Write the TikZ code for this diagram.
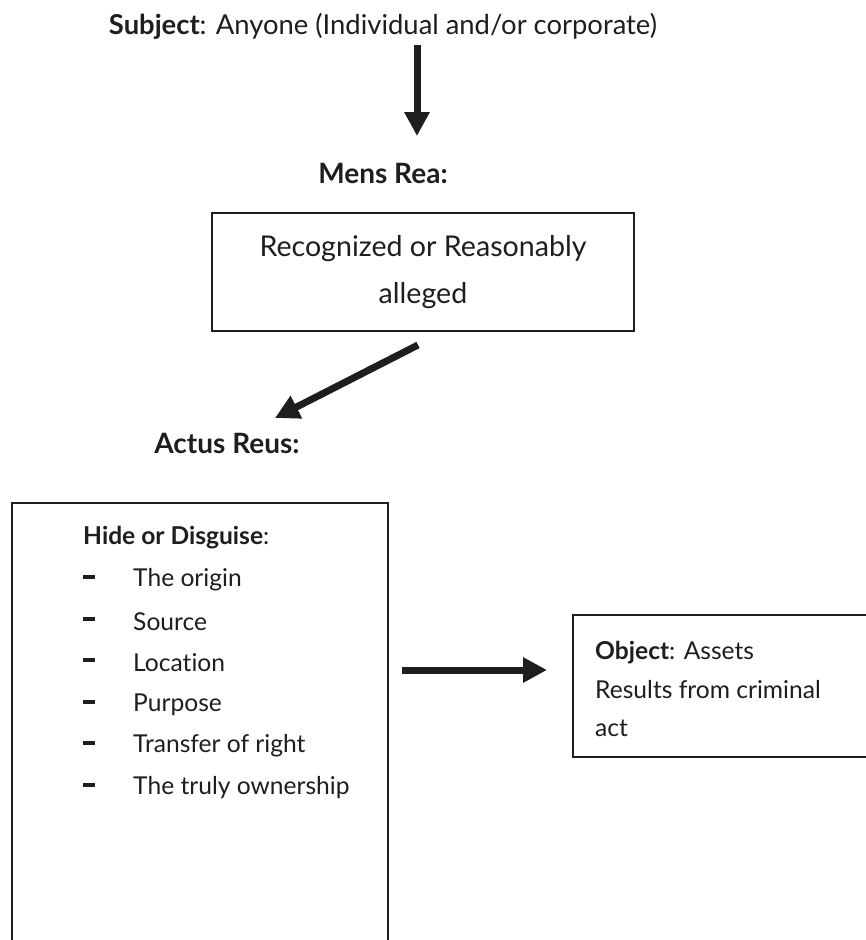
\documentclass[tikz,border=0pt]{standalone}
\usepackage{fontspec}
\setmainfont{Lato}[Ligatures={NoCommon,NoDiscretionary}]
\usetikzlibrary{arrows.meta}
\definecolor{ink}{HTML}{1E1E1E}
\tikzset{
  bigarrow/.style={draw=ink, line width=7pt, -{Triangle[length=24pt,width=24pt]}},
  frame/.style={draw=ink, line width=1.8pt},
  label/.style={inner sep=0pt, text=ink, font=\bfseries\fontsize{28}{32}\selectfont},
  body/.style={inner sep=0pt, text=ink, font=\fontsize{24.6}{28}\selectfont, anchor=west},
}
\begin{document}
\begin{tikzpicture}[x=1pt, y=-1pt]
  \useasboundingbox (0,0) rectangle (866,940);
  \clip (0,0) rectangle (866,940);
  \fill[white] (0,0) rectangle (866,940);

  % top line: the subject
  \node[label, font=\fontsize{27.4}{32}\selectfont] (subj) at (383,26)
    {\textbf{Subject}: Anyone (Individual and/or corporate)};

  % mental element
  \node[label] (mens) at (383,173) {Mens Rea:};
  \node[frame, minimum width=422pt, minimum height=118pt, inner sep=0pt,
        text=ink, align=center, font=\fontsize{28.6}{47}\selectfont] (recog) at (423,272)
    {Recognized or Reasonably\\alleged};

  % physical element
  \node[label] (actus) at (227,443) {Actus Reus:};

  % left box, open at the foot
  \draw[frame] (12,950) -- (12,503) -- (388,503) -- (388,950);
  \node[body] (hd) at (83,538) {\textbf{Hide or Disguise}:};
  \foreach \y/\t [count=\i] in {580/The origin, 622/Source, 663/Location,
      705/Purpose, 746/Transfer of right, 788/The truly ownership} {
    \node[body] (dash\i) at (83,\y) {\rule[0.25em]{12pt}{3.5pt}};
    \node[body] (item\i) at (133,\y) {\t};
  }

  % right box, open on the right
  \draw[frame] (875,615) -- (573,615) -- (573,757) -- (875,757);
  \node[body] (obj1) at (595,653) {\textbf{Object}: Assets};
  \node[body] (obj2) at (595,690) {Results from criminal};
  \node[body] (obj3) at (595,728) {act};

  % connectors
  \coordinate (a1s) at (417,45);   \coordinate (a1e) at (417,136);
  \coordinate (a2s) at (418,345);  \coordinate (a2e) at (275,418);
  \coordinate (a3s) at (402,670);  \coordinate (a3e) at (547,670);
  \draw[bigarrow] (a1s) -- (a1e);
  \draw[bigarrow] (a2s) -- (a2e);
  \draw[bigarrow] (a3s) -- (a3e);
\end{tikzpicture}
\end{document}
